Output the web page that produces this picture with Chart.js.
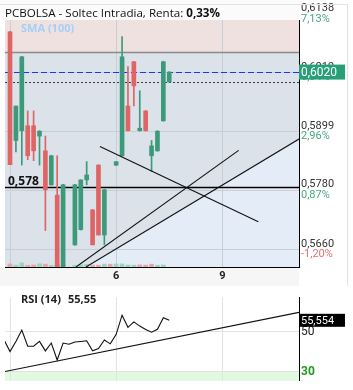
<!DOCTYPE html>
<html>
<head>
<meta charset="utf-8">
<script src="https://cdn.jsdelivr.net/npm/chart.js@4.4.1/dist/chart.umd.min.js"></script>
<style>
body { margin: 0; background: #fff; }
#price { position: absolute; left: 0; top: 0; }
#rsi { position: absolute; left: 0; top: 288px; }
</style>
</head>
<body>
<canvas id="price" width="353" height="286"></canvas>
<canvas id="rsi" width="353" height="102"></canvas>
<script>
var titleText = 'PCBOLSA - Soltec Intradia, Renta: ';
var titleValue = '0,33%';

// candles (x = bar slot, 18 slots per session)
var candleX = [0, 1, 2, 3, 4, 5, 6, 7, 8, 9, 11, 12, 13, 14, 15, 16, 18, 19, 20, 21, 22, 23, 24, 25, 26, 27];
var opens  = [0.6102, 0.5881, 0.5901, 0.5911, 0.5911, 0.5890, 0.5860, 0.5791, 0.5770, 0.5600, 0.5669, 0.5700, 0.5801, 0.5740, 0.5831, 0.5689, 0.5831, 0.5850, 0.5951, 0.6041, 0.5901, 0.5941, 0.5850, 0.5860, 0.5921, 0.6000];
var highs  = [0.6103, 0.5951, 0.6052, 0.5941, 0.5941, 0.5901, 0.5890, 0.5851, 0.5850, 0.5792, 0.5792, 0.5801, 0.5838, 0.5741, 0.5832, 0.5782, 0.5838, 0.6092, 0.6031, 0.6042, 0.5982, 0.5942, 0.5881, 0.5901, 0.6042, 0.6021];
var lows   = [0.5832, 0.5858, 0.5831, 0.5842, 0.5840, 0.5831, 0.5698, 0.5790, 0.5590, 0.5590, 0.5668, 0.5699, 0.5791, 0.5669, 0.5689, 0.5669, 0.5830, 0.5849, 0.5900, 0.5951, 0.5900, 0.5900, 0.5818, 0.5859, 0.5920, 0.5999];
var closes = [0.5832, 0.5951, 0.6051, 0.5850, 0.5860, 0.5900, 0.5781, 0.5850, 0.5600, 0.5791, 0.5791, 0.5801, 0.5811, 0.5669, 0.5689, 0.5781, 0.5838, 0.6051, 0.5901, 0.5992, 0.5906, 0.5901, 0.5870, 0.5900, 0.6041, 0.6020];

var volX = [0, 1, 2, 3, 4, 5, 6, 7, 8, 9, 11, 12, 13, 14, 15, 16, 17, 18, 19, 20, 21, 22, 23, 24, 25, 26];
var volumes = [31, 19, 42, 18, 21, 33, 29, 17, 30, 28, 18, 22, 27, 20, 19, 30, 29, 31, 32, 21, 19, 22, 20, 29, 18, 21];
var volUp = [0, 1, 1, 0, 0, 1, 0, 1, 0, 1, 1, 1, 1, 0, 0, 1, 0, 1, 1, 1, 1, 0, 0, 0, 1, 1];

var priceTicks = [0.5660, 0.5780, 0.5899, 0.6019, 0.6138];
var priceTickLabels = ['0,5660', '0,5780', '0,5899', '0,6019', '0,6138'];
var pctTickLabels = ['-1,20%', '0,87%', '2,96%', '5,04%', '7,13%'];

var dayTicks = [0, 18, 36];
var dayLabels = ['', '6', '9'];

var lastPrice = 0.6020, lastPriceLabel = '0,6020';
var prevClose = 0.6000;
var resistLevel = 0.6061;
var supportLevel = 0.5786, supportLabel = '0,578';

var trendA = [{x: 15.25, y: 0.5869}, {x: 42.1, y: 0.5716}];
var trendB = [{x: 11.19, y: 0.5624}, {x: 38.77, y: 0.5861}];
var trendC = [{x: 12.88, y: 0.5624}, {x: 49.0, y: 0.5884}];

// RSI panel
var rsiX = [-1, 0, 1, 2, 3, 4, 5, 6, 7, 8, 9, 10, 11, 12, 13, 14, 15, 16, 17, 18, 19, 20, 21, 22, 23, 24, 25, 26, 27];
var rsiValues = [45.8, 40.1, 45.1, 50.7, 42.7, 42.7, 45.1, 40.4, 44.3, 35.9, 44.3, 43.7, 44.8, 45.1, 45.4, 40.5, 41.6, 45.8, 43.9, 48.6, 58.1, 52.1, 54.8, 52.7, 51.0, 49.7, 51.1, 56.8, 55.55];
var rsiTrend = [{x: -0.85, y: 30.2}, {x: 49.0, y: 59.5}];
var rsiTicks = [30, 50];
var rsiLast = 55.554, rsiLastLabel = '55,554', rsiTitle = 'RSI (14)', rsiTitleValue = '55,55';

var UP = '#3c9a7b', DOWN = '#e06464';
var XMIN = -0.85, XMAX = 49;

function pts(xs, ys) { return xs.map(function (x, i) { return {x: x, y: ys[i]}; }); }

var priceDeco = {
    id: 'priceDeco',
    beforeDraw: function (c) {
        var ctx = c.ctx, a = c.chartArea, x = c.scales.x, y = c.scales.y;
        ctx.save();
        ctx.fillStyle = '#f6f6f6';
        ctx.fillRect(0, a.bottom, a.right, c.height - a.bottom);
        ctx.fillStyle = '#dbe2e9';
        ctx.fillRect(a.left, a.top, a.width, a.height);
        ctx.fillStyle = '#f0e1e1';
        ctx.fillRect(a.left, a.top, a.width, y.getPixelForValue(resistLevel) - a.top);
        ctx.beginPath();
        ctx.rect(a.left, a.top, a.width, a.height);
        ctx.clip();
        ctx.fillStyle = '#e4edf7';
        ctx.beginPath();
        ctx.moveTo(x.getPixelForValue(trendC[0].x), y.getPixelForValue(trendC[0].y));
        ctx.lineTo(x.getPixelForValue(trendC[1].x), y.getPixelForValue(trendC[1].y));
        ctx.lineTo(x.getPixelForValue(trendC[1].x), a.bottom + 5);
        ctx.lineTo(x.getPixelForValue(trendC[0].x), a.bottom + 5);
        ctx.closePath();
        ctx.fill();
        ctx.restore();
    },
    beforeDatasetsDraw: function (c) {
        var ctx = c.ctx, a = c.chartArea, y = c.scales.y;
        function hline(v, color, width, dash) {
            var py = Math.round(y.getPixelForValue(v)) + 0.5;
            ctx.strokeStyle = color; ctx.lineWidth = width; ctx.setLineDash(dash);
            ctx.beginPath(); ctx.moveTo(a.left, py); ctx.lineTo(a.right, py); ctx.stroke();
        }
        ctx.save();
        hline(resistLevel, '#8b8b8b', 1.5, []);
        hline(prevClose, '#3a3a3a', 1, [2, 2]);
        hline(lastPrice, '#1f35e8', 1.2, [6, 3]);
        hline(supportLevel, '#000', 1.3, []);
        ctx.restore();
    },
    afterDraw: function (c) {
        var ctx = c.ctx, a = c.chartArea, y = c.scales.y;
        ctx.save();
        // header band
        ctx.fillStyle = '#fbfbfb';
        ctx.fillRect(0, 0, a.right + 1, 20);
        ctx.strokeStyle = '#e2e2e2'; ctx.lineWidth = 1;
        ctx.beginPath(); ctx.moveTo(0, 4.5); ctx.lineTo(347.5, 4.5); ctx.lineTo(347.5, 286); ctx.stroke();
        ctx.textBaseline = 'alphabetic';
        ctx.fillStyle = '#111';
        ctx.font = '11.6px "Open Sans"';
        ctx.fillText(titleText, 5, 16.5);
        var w = ctx.measureText(titleText).width;
        ctx.font = 'bold 11.6px "Open Sans"';
        ctx.fillText(titleValue, 5 + w, 16.5);
        // SMA legend
        ctx.fillStyle = '#a3d0f5';
        ctx.font = 'bold 11px "Open Sans"';
        ctx.fillText('SMA (100)', 21, 32);
        // support label
        ctx.fillStyle = '#111';
        ctx.font = 'bold 12px "Open Sans"';
        ctx.fillText(supportLabel, 8, y.getPixelForValue(supportLevel) - 2);
        // percent labels under the price ticks
        ctx.font = '11px Roboto';
        ctx.textBaseline = 'middle';
        priceTicks.forEach(function (v, i) {
            ctx.fillStyle = pctTickLabels[i].charAt(0) === '-' ? '#f06b6b' : '#45a87e';
            ctx.fillText(pctTickLabels[i], a.right + 2, y.getPixelForValue(v) + 5);
        });
        // last price box
        var py = y.getPixelForValue(lastPrice);
        ctx.fillStyle = '#27a077';
        ctx.fillRect(a.right, py - 7.5, 46, 15);
        ctx.fillStyle = '#fff';
        ctx.font = '12px Roboto';
        ctx.fillText(lastPriceLabel, a.right + 2, py + 0.5);
        ctx.restore();
    }
};

var priceChart = new Chart(document.getElementById('price'), {
    type: 'bar',
    data: {
        datasets: [{
            type: 'line', data: trendA, borderColor: '#111', borderWidth: 1.1, pointRadius: 0, order: 1
        }, {
            type: 'line', data: trendB, borderColor: '#111', borderWidth: 1.1, pointRadius: 0, order: 1
        }, {
            type: 'line', data: trendC, borderColor: '#111', borderWidth: 1.1, pointRadius: 0, order: 1
        }, {
            data: candleX.map(function (x, i) { return {x: x, y: [opens[i], closes[i]]}; }),
            backgroundColor: candleX.map(function (x, i) { return closes[i] >= opens[i] ? UP : DOWN; }),
            barThickness: 4, minBarLength: 1, grouped: false, clip: 0, order: 2
        }, {
            data: candleX.map(function (x, i) { return {x: x, y: [lows[i], highs[i]]}; }),
            backgroundColor: candleX.map(function (x, i) { return closes[i] >= opens[i] ? UP : DOWN; }),
            barThickness: 1, grouped: false, clip: 0, order: 3
        }, {
            data: pts(volX, volumes), yAxisID: 'yv',
            backgroundColor: volUp.map(function (u) { return u ? '#98d6bf' : '#e8a6a8'; }),
            barThickness: 4, grouped: false, clip: 0, order: 4
        }]
    },
    options: {
        responsive: false,
        animation: false,
        layout: {padding: {left: 5, top: 14, right: 0, bottom: 0}},
        plugins: {legend: {display: false}, tooltip: {enabled: false}},
        scales: {
            x: {
                type: 'linear', min: XMIN, max: XMAX, offset: false,
                afterBuildTicks: function (s) { s.ticks = dayTicks.map(function (v) { return {value: v}; }); },
                afterFit: function (s) { s.height = 19; },
                ticks: {
                    callback: function (v, i) { return dayLabels[i]; },
                    autoSkip: false, maxRotation: 0, padding: 3,
                    color: '#222', font: {family: 'Roboto', size: 11, weight: 'bold'}
                },
                grid: {color: '#c7ced5', drawTicks: false, offset: false},
                border: {color: '#000', width: 1}
            },
            y: {
                position: 'right', min: 0.5624, max: 0.6138,
                afterBuildTicks: function (s) { s.ticks = priceTicks.map(function (v) { return {value: v}; }); },
                afterFit: function (s) { s.width = 54; },
                ticks: {
                    callback: function (v, i) { return [priceTickLabels[i], ' ']; },
                    padding: 2, color: '#333',
                    font: {family: 'Roboto', size: 11, lineHeight: 1.0}
                },
                grid: {color: '#c7ced5', drawTicks: false},
                border: {color: '#000', width: 1}
            },
            yv: {type: 'linear', display: false, min: 0, max: 2600}
        }
    },
    plugins: [priceDeco]
});

var rsiDeco = {
    id: 'rsiDeco',
    beforeDraw: function (c) {
        var ctx = c.ctx, a = c.chartArea, y = c.scales.y;
        ctx.save();
        ctx.fillStyle = '#e1f9e1';
        var p30 = y.getPixelForValue(30);
        ctx.fillRect(a.left, p30, a.width, a.bottom - p30);
        ctx.restore();
    },
    afterDraw: function (c) {
        var ctx = c.ctx, a = c.chartArea, y = c.scales.y;
        ctx.save();
        ctx.fillStyle = '#222';
        ctx.font = 'bold 11px "Open Sans"';
        ctx.textBaseline = 'alphabetic';
        ctx.fillText(rsiTitle, 21, 15);
        ctx.fillText(rsiTitleValue, 68, 15);
        var py = y.getPixelForValue(rsiLast);
        ctx.fillStyle = '#000';
        ctx.fillRect(a.right, py - 6.5, 46, 13);
        ctx.fillStyle = '#fff';
        ctx.font = '11px Roboto';
        ctx.textBaseline = 'middle';
        ctx.fillText(rsiLastLabel, a.right + 2, py + 0.5);
        ctx.restore();
    }
};

var rsiChart = new Chart(document.getElementById('rsi'), {
    type: 'line',
    data: {
        datasets: [{
            data: pts(rsiX, rsiValues), borderColor: '#111', borderWidth: 1.1, pointRadius: 0
        }, {
            data: rsiTrend, borderColor: '#111', borderWidth: 1.2, pointRadius: 0
        }]
    },
    options: {
        responsive: false,
        animation: false,
        layout: {padding: {left: 5, top: 0, right: 0, bottom: 4}},
        plugins: {legend: {display: false}, tooltip: {enabled: false}},
        scales: {
            x: {
                type: 'linear', min: XMIN, max: XMAX,
                afterBuildTicks: function (s) { s.ticks = dayTicks.map(function (v) { return {value: v}; }); },
                ticks: {display: false},
                grid: {color: '#e3e3e3', drawTicks: false},
                border: {display: false}
            },
            y: {
                position: 'right', min: 25.6, max: 67.0,
                afterBuildTicks: function (s) { s.ticks = rsiTicks.map(function (v) { return {value: v}; }); },
                afterFit: function (s) { s.width = 54; },
                ticks: {
                    padding: 2,
                    color: function (ctx) { return ctx.tick.value === 30 ? '#1f9a1f' : '#222'; },
                    font: function (ctx) { return {family: 'Roboto', size: 12, weight: ctx.tick && ctx.tick.value === 30 ? 'bold' : 'normal'}; }
                },
                grid: {color: '#e3e3e3', drawTicks: false},
                border: {color: '#000', width: 1}
            }
        }
    },
    plugins: [rsiDeco]
});
</script>
</body>
</html>
